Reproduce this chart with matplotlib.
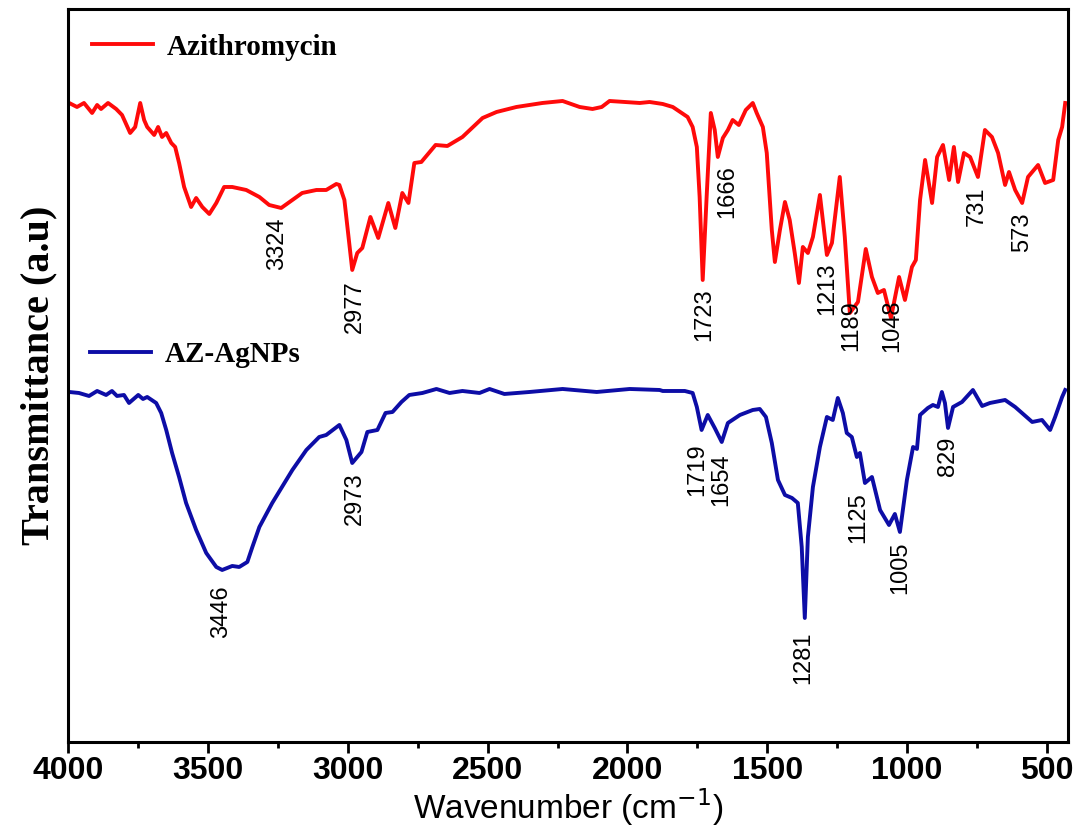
import matplotlib
matplotlib.use("Agg")
import matplotlib.pyplot as plt
from matplotlib import font_manager
from matplotlib.lines import Line2D
from matplotlib.ticker import MultipleLocator

# FTIR spectra (wavenumber in cm-1, transmittance in arbitrary units)
az_wn = [3996, 3968, 3943, 3914, 3896, 3882, 3857, 3828, 3807, 3778, 3760, 3742, 3728,
         3717, 3692, 3678, 3664, 3649, 3631, 3617, 3603, 3585, 3560, 3542, 3520, 3495,
         3470, 3442, 3413, 3363, 3316, 3281, 3238, 3198, 3163, 3112, 3077, 3041, 3030,
         3012, 2984, 2966, 2948, 2919, 2891, 2855, 2830, 2805, 2783, 2762, 2737, 2686,
         2644, 2590, 2518, 2468, 2397, 2304, 2232, 2171, 2125, 2092, 2064, 1956, 1921,
         1874, 1838, 1806, 1785, 1767, 1752, 1742, 1731, 1717, 1702, 1688, 1677, 1659,
         1641, 1624, 1602, 1577, 1552, 1538, 1516, 1502, 1484, 1473, 1455, 1437, 1420,
         1402, 1387, 1373, 1355, 1337, 1312, 1287, 1269, 1241, 1223, 1205, 1176, 1148,
         1126, 1105, 1083, 1058, 1029, 1008, 983, 969, 954, 936, 911, 893, 872, 850, 833,
         818, 797, 775, 747, 722, 697, 675, 650, 636, 614, 589, 568, 532, 507, 478, 460,
         446, 435]
az_t = [63.9, 63.5, 63.9, 62.9, 63.7, 63.3, 63.9, 63.3, 62.7, 60.9, 61.5, 63.9, 62.2,
        61.5, 60.7, 61.5, 60.5, 60.9, 59.9, 59.5, 57.9, 55.5, 53.5, 54.4, 53.5, 52.8,
        53.9, 55.5, 55.5, 55.2, 54.5, 53.7, 53.4, 54.2, 54.9, 55.2, 55.2, 55.8, 55.7,
        54.2, 47.2, 48.9, 49.4, 52.5, 50.4, 53.9, 51.4, 54.9, 53.9, 57.9, 58.0, 59.7,
        59.6, 60.5, 62.4, 63.0, 63.5, 63.9, 64.1, 63.5, 63.3, 63.5, 64.1, 63.9, 64.0,
        63.8, 63.5, 62.9, 62.5, 61.5, 59.5, 54.5, 46.2, 54.5, 62.9, 61.2, 58.5, 60.4,
        61.2, 62.2, 61.7, 63.2, 63.9, 62.9, 61.5, 58.9, 51.2, 48.0, 51.2, 54.0, 52.2,
        48.9, 45.9, 49.5, 48.9, 50.5, 54.7, 48.7, 49.9, 56.5, 50.5, 42.9, 44.0, 49.3,
        46.5, 44.9, 45.2, 42.4, 46.5, 44.2, 47.5, 48.2, 54.2, 58.2, 53.9, 58.5, 59.7,
        56.2, 59.5, 56.0, 58.9, 58.5, 56.5, 61.2, 60.5, 58.9, 55.7, 57.0, 55.2, 53.9,
        56.5, 57.7, 55.9, 56.2, 60.2, 61.5, 63.9]

ag_wn = [3996, 3961, 3925, 3896, 3864, 3843, 3825, 3800, 3782, 3749, 3732, 3717, 3685,
         3667, 3649, 3628, 3603, 3578, 3542, 3506, 3470, 3449, 3413, 3388, 3359, 3341,
         3316, 3270, 3198, 3148, 3102, 3077, 3030, 3005, 2984, 2951, 2930, 2894, 2865,
         2840, 2808, 2780, 2733, 2683, 2636, 2590, 2529, 2493, 2440, 2350, 2232, 2110,
         1992, 1885, 1874, 1795, 1767, 1752, 1735, 1713, 1688, 1663, 1641, 1598, 1552,
         1527, 1505, 1484, 1462, 1437, 1412, 1391, 1377, 1366, 1355, 1337, 1312, 1287,
         1266, 1248, 1230, 1216, 1198, 1180, 1169, 1151, 1126, 1097, 1065, 1044, 1026,
         1001, 979, 965, 954, 926, 908, 890, 876, 865, 854, 836, 804, 765, 732, 704, 650,
         614, 553, 518, 489, 471, 446, 435]
ag_t = [35.0, 34.9, 34.6, 35.1, 34.7, 35.1, 34.6, 34.7, 33.9, 34.7, 34.3, 34.5, 33.9,
        32.9, 31.2, 28.9, 26.5, 23.9, 21.2, 18.9, 17.5, 17.2, 17.6, 17.5, 18.0, 19.5,
        21.5, 23.9, 27.2, 29.2, 30.5, 30.7, 31.7, 30.2, 27.9, 29.0, 31.0, 31.2, 32.9,
        33.0, 34.0, 34.7, 34.9, 35.3, 34.9, 35.1, 34.9, 35.3, 34.8, 35.0, 35.3, 35.0,
        35.3, 35.2, 35.1, 35.1, 34.9, 33.5, 31.2, 32.7, 31.4, 30.0, 31.9, 32.7, 33.2,
        33.3, 32.5, 29.9, 26.2, 24.7, 24.4, 23.9, 19.5, 12.4, 20.5, 25.5, 29.5, 32.5,
        32.2, 34.4, 32.9, 30.9, 30.5, 28.5, 28.9, 25.9, 26.5, 23.2, 21.7, 22.8, 21.0,
        26.2, 29.5, 29.3, 32.7, 33.4, 33.7, 33.5, 35.0, 33.9, 31.4, 33.5, 34.0, 35.2,
        33.6, 33.9, 34.2, 33.5, 32.0, 32.2, 31.2, 32.5, 34.5, 35.2]

# band annotations: (text, wavenumber, transmittance at top of label)
az_bands = [("3324", 3252, 52.4), ("2977", 2973, 46.2), ("1723", 1724, 45.4),
            ("1666", 1645, 57.7), ("1213", 1287, 47.9), ("1189", 1201, 44.2),
            ("1048", 1055, 44.2), ("731", 750, 55.5), ("573", 589, 52.9)]
ag_bands = [("3446", 3452, 15.7), ("2973", 2976, 27.0), ("1719", 1749, 29.9),
            ("1654", 1663, 28.9), ("1281", 1373, 11.0), ("1125", 1176, 25.0),
            ("1005", 1026, 20.0), ("829", 854, 30.5)]

RED = "#ff0a0a"
BLUE = "#0d0da6"

installed = {f.name for f in font_manager.fontManager.ttflist}
narrow = "Liberation Sans Narrow" if "Liberation Sans Narrow" in installed else "Liberation Sans"
tick_size = 26 if narrow == "Liberation Sans Narrow" else 23
serif = "Liberation Serif"

fig = plt.figure(figsize=(10.75, 8.32), dpi=100)
ax = fig.add_axes([0.0633, 0.1082, 0.9302, 0.881])

ax.plot(az_wn, az_t, color=RED, lw=2.8, solid_joinstyle="round")
ax.plot(ag_wn, ag_t, color=BLUE, lw=2.8, solid_joinstyle="round")

for label, wn, t in az_bands + ag_bands:
    ax.text(wn, t, label, rotation=90, ha="center", va="top",
            family="Liberation Sans", fontsize=17)

ax.set_xlim(4000, 425)
ax.set_ylim(0, 73.3)

ax.xaxis.set_major_locator(MultipleLocator(500))
ax.xaxis.set_minor_locator(MultipleLocator(250))
ax.tick_params(axis="x", which="major", direction="out", length=8, width=2, pad=2)
ax.tick_params(axis="x", which="minor", direction="out", length=4.5, width=2)
ax.tick_params(axis="y", left=False, labelleft=False)
for lab in ax.get_xticklabels():
    lab.set_fontfamily(narrow)
    lab.set_fontweight("bold")
    lab.set_fontsize(tick_size)
for sp in ax.spines.values():
    sp.set_linewidth(2.2)

ax.set_xlabel("Wavenumber (cm$^{-1}$)", family="Liberation Sans", fontsize=24, labelpad=0)
ax.set_ylabel("Transmittance (a.u)", family=serif, fontweight="bold", fontsize=29, labelpad=8)

# two separate legend entries, one above each spectrum
leg_font = {"family": serif, "weight": "bold", "size": 21}
leg1 = ax.legend(handles=[Line2D([], [], color=RED, lw=2.8)], labels=["Azithromycin"],
                 loc="center left", bbox_to_anchor=(0.024, 0.948), frameon=False,
                 prop=leg_font, handlelength=2.1, handletextpad=0.45,
                 borderpad=0, borderaxespad=0)
ax.add_artist(leg1)
ax.legend(handles=[Line2D([], [], color=BLUE, lw=2.8)], labels=["AZ-AgNPs"],
          loc="center left", bbox_to_anchor=(0.022, 0.529), frameon=False,
          prop=leg_font, handlelength=2.1, handletextpad=0.45,
          borderpad=0, borderaxespad=0)

fig.savefig("out.png", dpi=100)
